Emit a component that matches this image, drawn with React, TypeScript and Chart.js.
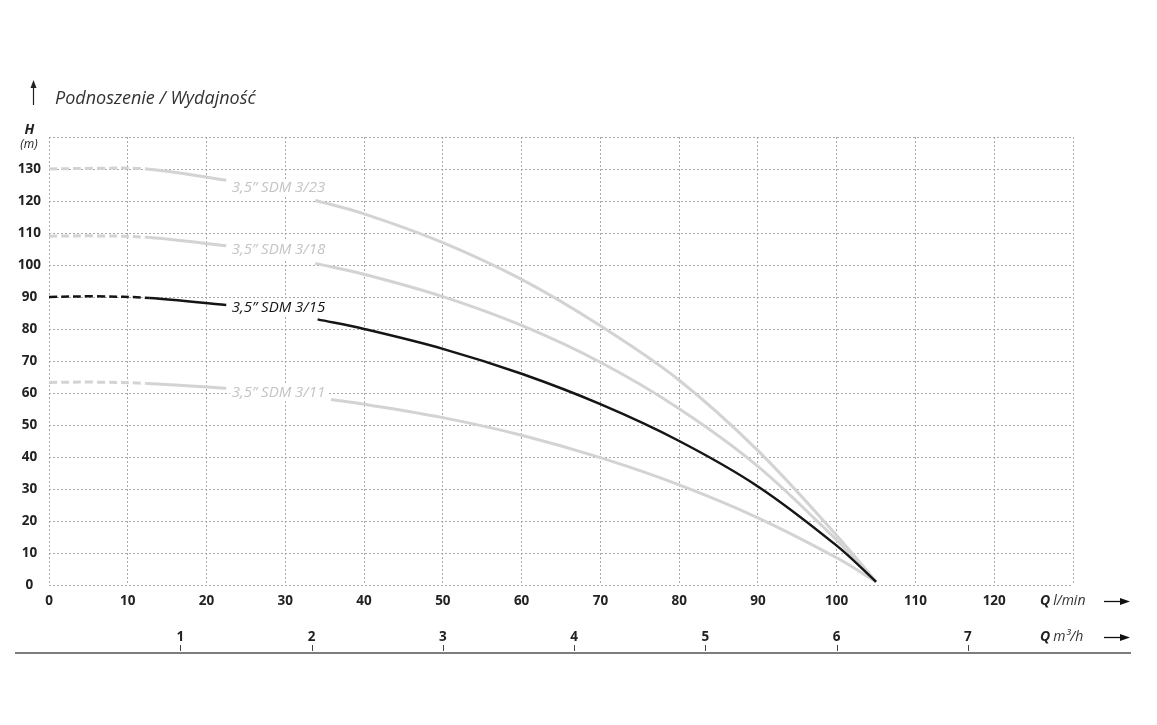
import React, { useEffect, useRef } from 'react';
import { Chart, registerables } from 'chart.js';

Chart.register(...registerables);

// ---- data ----
const seriesNames = ['3,5” SDM 3/23', '3,5” SDM 3/18', '3,5” SDM 3/15', '3,5” SDM 3/11'];

// flow Q [l/min]; a null head marks the gap where the series label sits
const q323 = [0, 6, 12.4, 22.5, 28, 33.8, 40, 50, 60, 70, 80, 90, 100, 105];
const h323 = [130, 130.2, 130, 126.5, null, 120.2, 116, 107, 95.5, 81, 64, 42, 15.5, 1];

const q318 = [0, 6, 12.8, 22.5, 28, 33.8, 40, 50, 60, 70, 80, 90, 100, 105];
const h318 = [109, 109.1, 108.6, 106, null, 100.5, 97.1, 90.1, 81.1, 69.6, 55.1, 37.1, 14, 1];

const q315 = [0, 6, 12.8, 22.5, 28, 34.1, 40, 50, 60, 70, 80, 90, 100, 105];
const h315 = [90, 90.2, 89.7, 87.5, null, 83, 80, 73.8, 66, 56.5, 45, 30.8, 12.3, 1];

const q311 = [0, 6, 12.4, 22.5, 28, 35.8, 40, 50, 60, 70, 80, 90, 100, 105];
const h311 = [63.3, 63.4, 63, 61.5, null, 58, 56.5, 52.3, 46.8, 39.8, 31.3, 21, 8.5, 1];

// where each series name is written (Q l/min, H m)
const labelQ = [23.2, 23.2, 23.2, 23.2];
const labelH = [124, 104.7, 86.7, 60.2];

const headTicks = [0, 10, 20, 30, 40, 50, 60, 70, 80, 90, 100, 110, 120, 130, 140];
const flowGrid = [0, 10, 20, 30, 40, 50, 60, 70, 80, 90, 100, 110, 120, 130];
const lpmTicks = [0, 10, 20, 30, 40, 50, 60, 70, 80, 90, 100, 110, 120];
const m3hTicks = [1, 2, 3, 4, 5, 6, 7];
const LPM_PER_M3H = 1000 / 60;
const DASH_END_Q = 13;

const FONT = '"Open Sans", "Noto Sans", sans-serif';
const LIGHT = '#d3d3d3';
const LIGHT_TEXT = '#c4c4c4';
const DARK = '#151515';

const seriesColors = [LIGHT, LIGHT, DARK, LIGHT];
const labelColors = [LIGHT_TEXT, LIGHT_TEXT, DARK, LIGHT_TEXT];
const lineWidths = [3, 3, 2.5, 3];

// split a series into continuous pieces at the null gap
const toParts = (qs: number[], hs: (number | null)[]) => {
  const parts: { x: number; y: number }[][] = [[]];
  qs.forEach((q, i) => {
    const h = hs[i];
    if (h === null) parts.push([]);
    else parts[parts.length - 1].push({ x: q, y: h });
  });
  return parts.filter((p) => p.length > 0);
};

const decorPlugin = {
  id: 'decor',
  afterDraw(chart: any) {
    const ctx = chart.ctx as CanvasRenderingContext2D;
    const xs = chart.scales.x;
    const ys = chart.scales.y;
    const x2 = chart.scales.x2;
    ctx.save();

    // series labels (knocking out the grid behind them)
    ctx.font = `italic 15px ${FONT}`;
    ctx.textBaseline = 'middle';
    ctx.textAlign = 'left';
    seriesNames.forEach((name, i) => {
      const lx = xs.getPixelForValue(labelQ[i]);
      const ly = ys.getPixelForValue(labelH[i]);
      const w = ctx.measureText(name).width;
      ctx.fillStyle = '#ffffff';
      ctx.fillRect(lx - 2, ly - 9, w + 5, 18);
      ctx.fillStyle = labelColors[i];
      ctx.fillText(name, lx, ly);
    });

    // title with arrow
    ctx.strokeStyle = '#222';
    ctx.fillStyle = '#222';
    ctx.lineWidth = 1.2;
    ctx.beginPath();
    ctx.moveTo(33.5, 105);
    ctx.lineTo(33.5, 86);
    ctx.stroke();
    ctx.beginPath();
    ctx.moveTo(33.5, 80);
    ctx.lineTo(30.5, 88);
    ctx.lineTo(36.5, 88);
    ctx.closePath();
    ctx.fill();

    ctx.fillStyle = '#333';
    ctx.font = `italic 18px ${FONT}`;
    ctx.textBaseline = 'alphabetic';
    ctx.fillText('Podnoszenie / Wydajność', 55, 104);

    // H (m)
    ctx.textAlign = 'center';
    ctx.textBaseline = 'middle';
    ctx.fillStyle = '#222';
    ctx.font = `italic bold 14px ${FONT}`;
    ctx.fillText('H', 29.5, 130);
    ctx.font = `italic 12px ${FONT}`;
    ctx.fillText('(m)', 29, 145);

    // bottom rule and m3/h tick marks
    const ruleY = x2.bottom;
    ctx.strokeStyle = '#7d7d7d';
    ctx.lineWidth = 2;
    ctx.beginPath();
    ctx.moveTo(15, ruleY);
    ctx.lineTo(1131, ruleY);
    ctx.stroke();
    ctx.strokeStyle = '#444';
    ctx.lineWidth = 1;
    m3hTicks.forEach((v) => {
      const px = Math.round(x2.getPixelForValue(v)) + 0.5;
      ctx.beginPath();
      ctx.moveTo(px, ruleY - 8);
      ctx.lineTo(px, ruleY - 2);
      ctx.stroke();
    });

    // axis unit captions with arrows
    const drawCaption = (unit: string, y: number) => {
      ctx.textAlign = 'left';
      ctx.textBaseline = 'middle';
      ctx.fillStyle = '#222';
      ctx.font = `italic bold 14px ${FONT}`;
      ctx.fillText('Q', 1040, y);
      const qw = ctx.measureText('Q').width;
      ctx.font = `italic 14px ${FONT}`;
      ctx.fillStyle = '#333';
      ctx.fillText(unit, 1040 + qw + 3, y);
      ctx.strokeStyle = '#111';
      ctx.fillStyle = '#111';
      ctx.lineWidth = 1.3;
      ctx.beginPath();
      ctx.moveTo(1104, y + 0.5);
      ctx.lineTo(1122, y + 0.5);
      ctx.stroke();
      ctx.beginPath();
      ctx.moveTo(1130, y + 0.5);
      ctx.lineTo(1120, y - 3);
      ctx.lineTo(1120, y + 4);
      ctx.closePath();
      ctx.fill();
    };
    drawCaption('l/min', xs.top + 16);
    drawCaption('m³/h', x2.top + 22);

    ctx.restore();
  },
};

export default function App() {
  const canvasRef = useRef<HTMLCanvasElement | null>(null);

  useEffect(() => {
    if (!canvasRef.current) return;
    const series = [
      toParts(q323, h323),
      toParts(q318, h318),
      toParts(q315, h315),
      toParts(q311, h311),
    ];
    const gridColor = '#a8a8a8';
    const tickFont = { family: FONT, size: 13.5, weight: 'bold' as const };

    const datasets: any[] = [];
    series.forEach((parts, i) => {
      parts.forEach((pts, j) => {
        datasets.push({
          label: `${seriesNames[i]} ${j}`,
          data: pts,
          borderColor: seriesColors[i],
          borderWidth: lineWidths[i],
          pointRadius: 0,
          fill: false,
          tension: 0.35,
          order: i === 2 ? 0 : 1,
          segment: {
            borderDash: (c: any) => (c.p1.parsed.x <= DASH_END_Q ? [8, 4] : undefined),
          },
        });
      });
    });

    const chart = new Chart(canvasRef.current, {
      type: 'line',
      data: { datasets },
      options: {
        animation: false,
        responsive: false,
        events: [],
        layout: { padding: { left: 0, top: 137, right: 84, bottom: 72 } },
        plugins: {
          legend: { display: false },
          tooltip: { enabled: false },
          title: { display: false },
        },
        scales: {
          x: {
            type: 'linear',
            position: 'bottom',
            weight: 0,
            min: 0,
            max: 130,
            afterFit: (s: any) => {
              s.height = 30;
            },
            afterBuildTicks: (s: any) => {
              s.ticks = flowGrid.map((v) => ({ value: v }));
            },
            ticks: {
              autoSkip: false,
              maxRotation: 0,
              padding: 8,
              color: '#222',
              font: tickFont,
              callback: (v: any) => (lpmTicks.includes(Number(v)) ? String(v) : ''),
            },
            grid: { color: gridColor, lineWidth: 1, drawTicks: false },
            border: { display: false, dash: [2, 2] },
          },
          x2: {
            type: 'linear',
            position: 'bottom',
            weight: 1,
            min: 0,
            max: 130 / LPM_PER_M3H,
            afterFit: (s: any) => {
              s.height = 38;
            },
            afterBuildTicks: (s: any) => {
              s.ticks = m3hTicks.map((v) => ({ value: v }));
            },
            ticks: {
              autoSkip: false,
              maxRotation: 0,
              padding: 14,
              color: '#222',
              font: tickFont,
              callback: (v: any) => String(v),
            },
            grid: { display: false, drawTicks: false },
            border: { display: false },
          },
          y: {
            type: 'linear',
            min: 0,
            max: 140,
            afterFit: (s: any) => {
              s.width = 49;
            },
            afterBuildTicks: (s: any) => {
              s.ticks = headTicks.map((v) => ({ value: v }));
            },
            ticks: {
              padding: 8,
              crossAlign: 'center',
              color: '#222',
              font: tickFont,
              callback: (v: any) => (Number(v) <= 130 ? String(v) : ''),
            },
            grid: { color: gridColor, lineWidth: 1, drawTicks: false },
            border: { display: false, dash: [2, 2] },
          },
        },
      },
      plugins: [decorPlugin],
    } as any);

    return () => chart.destroy();
  }, []);

  return (
    <canvas
      ref={canvasRef}
      width={1157}
      height={725}
      style={{ position: 'absolute', left: 0, top: 0 }}
    />
  );
}
